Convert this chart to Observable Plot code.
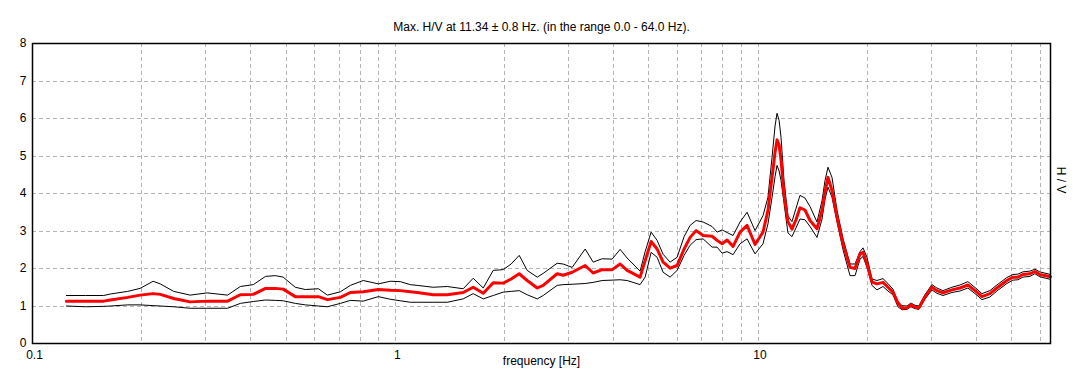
<!DOCTYPE html>
<html>
<head>
<meta charset="utf-8">
<script src="https://cdn.jsdelivr.net/npm/d3@7"></script>
<script src="https://cdn.jsdelivr.net/npm/@observablehq/plot@0.6"></script>
<style>
  html, body { margin: 0; padding: 0; background: #fff; }
</style>
</head>
<body>
<div id="chart"></div>
<script>
const titleText = "Max. H/V at 11.34 \u00b1 0.8 Hz. (in the range 0.0 - 64.0 Hz).";
const xLabel = "frequency [Hz]";
const yLabel = "H / V";
const xTickLabels = [0.1, 1, 10];
const yTickLabels = [0, 1, 2, 3, 4, 5, 6, 7, 8];
const xGrid = [0.2, 0.3, 0.4, 0.5, 0.6, 0.7, 0.8, 0.9, 1, 2, 3, 4, 5, 6, 7, 8, 9, 10, 20, 30, 40, 50, 60];
const yGrid = [1, 2, 3, 4, 5, 6, 7];

const freq = [0.124, 0.140, 0.157, 0.164, 0.183, 0.198, 0.215, 0.225, 0.245, 0.272,
  0.303, 0.345, 0.374, 0.406, 0.439, 0.467, 0.491, 0.530, 0.565, 0.614,
  0.650, 0.706, 0.752, 0.816, 0.898, 0.969, 1.032, 1.100, 1.150, 1.272,
  1.391, 1.539, 1.640, 1.748, 1.862, 1.984, 2.087, 2.196, 2.310, 2.462,
  2.557, 2.794, 2.903, 3.073, 3.338, 3.512, 3.718, 3.961, 4.167, 4.356,
  4.731, 4.884, 5.073, 5.270, 5.474, 5.723, 5.983, 6.254, 6.498, 6.749,
  7.056, 7.470, 7.711, 7.959, 8.215, 8.534, 8.921, 9.327, 9.811, 10.32,
  10.65, 10.93, 11.14, 11.28, 11.43, 11.57, 11.79, 12.09, 12.40, 12.72,
  13.05, 13.47, 13.91, 14.54, 15.01, 15.30, 15.59, 15.99, 16.51, 17.15,
  17.93, 18.51, 19.10, 19.47, 19.97, 20.61, 21.27, 22.10, 22.81, 23.54,
  24.30, 24.93, 25.73, 26.39, 27.07, 27.76, 28.84, 30.15, 31.12, 32.33,
  34.23, 36.02, 37.89, 40.12, 41.41, 43.56, 45.54, 48.53, 50.41, 52.04,
  53.70, 56.15, 57.96, 59.83, 64.0];

const hvMean = [1.13, 1.13, 1.13, 1.16, 1.23, 1.29, 1.33, 1.31, 1.20, 1.11,
  1.13, 1.13, 1.30, 1.31, 1.47, 1.47, 1.45, 1.25, 1.25, 1.25,
  1.17, 1.23, 1.36, 1.38, 1.44, 1.42, 1.41, 1.38, 1.36, 1.30,
  1.30, 1.36, 1.50, 1.34, 1.62, 1.61, 1.72, 1.86, 1.68, 1.48,
  1.55, 1.86, 1.82, 1.90, 2.08, 1.88, 1.97, 1.97, 2.12, 1.95,
  1.77, 2.21, 2.72, 2.52, 2.17, 2.01, 2.08, 2.52, 2.83, 3.01,
  2.88, 2.86, 2.75, 2.66, 2.76, 2.59, 2.97, 3.15, 2.64, 2.97,
  3.55, 4.43, 5.10, 5.43, 5.30, 4.90, 3.99, 3.25, 3.05, 3.30,
  3.62, 3.56, 3.28, 3.06, 3.55, 4.05, 4.43, 4.08, 3.37, 2.66,
  2.03, 2.00, 2.39, 2.43, 2.12, 1.64, 1.59, 1.63, 1.50, 1.37,
  1.08, 0.95, 0.95, 1.03, 0.97, 0.95, 1.24, 1.50, 1.41, 1.35,
  1.43, 1.48, 1.56, 1.37, 1.25, 1.33, 1.48, 1.68, 1.77, 1.77,
  1.84, 1.86, 1.92, 1.84, 1.78];

const hvUpper = [1.28, 1.28, 1.28, 1.32, 1.39, 1.47, 1.66, 1.59, 1.39, 1.29,
  1.35, 1.29, 1.52, 1.57, 1.79, 1.81, 1.77, 1.50, 1.44, 1.46,
  1.29, 1.38, 1.55, 1.68, 1.59, 1.66, 1.65, 1.57, 1.55, 1.50,
  1.52, 1.46, 1.74, 1.48, 1.95, 1.97, 2.12, 2.35, 1.95, 1.77,
  1.87, 2.14, 2.12, 2.03, 2.52, 2.17, 2.26, 2.25, 2.51, 2.28,
  1.93, 2.45, 2.97, 2.75, 2.38, 2.17, 2.30, 2.85, 3.15, 3.28,
  3.24, 3.12, 2.97, 3.03, 2.96, 2.88, 3.24, 3.50, 3.01, 3.41,
  3.90, 4.97, 5.80, 6.14, 5.95, 5.50, 4.35, 3.40, 3.25, 3.60,
  3.95, 3.88, 3.65, 3.24, 3.81, 4.35, 4.70, 4.43, 3.55, 2.80,
  2.12, 2.12, 2.45, 2.55, 2.30, 1.72, 1.68, 1.73, 1.60, 1.45,
  1.12, 1.01, 1.00, 1.08, 1.02, 1.00, 1.30, 1.57, 1.48, 1.41,
  1.50, 1.56, 1.65, 1.45, 1.33, 1.41, 1.56, 1.76, 1.84, 1.85,
  1.91, 1.93, 1.98, 1.91, 1.84];

const hvLower = [1.00, 0.98, 0.99, 1.00, 1.03, 1.03, 1.01, 1.00, 0.98, 0.94,
  0.94, 0.94, 1.07, 1.12, 1.16, 1.15, 1.14, 1.07, 1.03, 1.00,
  0.98, 1.07, 1.15, 1.13, 1.25, 1.18, 1.14, 1.10, 1.10, 1.10,
  1.10, 1.19, 1.33, 1.19, 1.28, 1.37, 1.39, 1.41, 1.30, 1.19,
  1.28, 1.55, 1.57, 1.58, 1.60, 1.63, 1.68, 1.69, 1.70, 1.68,
  1.57, 1.77, 2.43, 2.30, 1.90, 1.77, 1.95, 2.35, 2.62, 2.77,
  2.79, 2.57, 2.57, 2.41, 2.45, 2.37, 2.66, 2.79, 2.39, 2.66,
  3.19, 3.90, 4.45, 4.75, 4.60, 4.35, 3.75, 2.95, 2.85, 3.08,
  3.32, 3.30, 3.12, 2.83, 3.32, 3.85, 4.17, 3.90, 3.24, 2.50,
  1.81, 1.81, 2.25, 2.32, 2.03, 1.55, 1.43, 1.52, 1.40, 1.30,
  0.98, 0.90, 0.91, 0.98, 0.93, 0.91, 1.18, 1.43, 1.34, 1.28,
  1.36, 1.40, 1.48, 1.29, 1.17, 1.24, 1.40, 1.60, 1.69, 1.70,
  1.77, 1.79, 1.86, 1.78, 1.71];

const rows = freq.map((f, i) => ({f, mean: hvMean[i], upper: hvUpper[i], lower: hvLower[i]}));

const gridStyle = {stroke: "#b4b4b4", strokeOpacity: 1, strokeDasharray: "4,3", strokeWidth: 1, shapeRendering: "crispEdges"};

const chart = Plot.plot({
  width: 1081,
  height: 387,
  marginLeft: 32,
  marginRight: 31,
  marginTop: 43,
  marginBottom: 44,
  style: {fontFamily: "'Liberation Sans', Arial, sans-serif", fontSize: "12px", background: "#ffffff", color: "#000000"},
  x: {type: "log", domain: [0.1, 64]},
  y: {domain: [0, 8]},
  marks: [
    Plot.gridX(xGrid, gridStyle),
    Plot.gridY(yGrid, gridStyle),
    Plot.line(rows, {x: "f", y: "upper", stroke: "#000000", strokeWidth: 1}),
    Plot.line(rows, {x: "f", y: "lower", stroke: "#000000", strokeWidth: 1}),
    Plot.line(rows, {x: "f", y: "mean", stroke: "#ff0000", strokeWidth: 3}),
    Plot.frame({stroke: "#000000", strokeWidth: 1.5}),
    Plot.axisX(xTickLabels, {tickSize: 0, tickPadding: 7, dx: 2, tickFormat: d => String(d), label: null, fontSize: 12}),
    Plot.axisY(yTickLabels, {tickSize: 0, tickPadding: 6, label: null, fontSize: 12}),
    Plot.text([titleText], {frameAnchor: "top", dy: -21, fontSize: 12, fill: "#000000"}),
    Plot.text([xLabel], {frameAnchor: "bottom", dy: 21, fontSize: 12, fill: "#000000"}),
    Plot.text([yLabel], {frameAnchor: "right", dx: 10, rotate: 90, fontSize: 12, fill: "#000000"})
  ]
});
document.getElementById("chart").appendChild(chart);
</script>
</body>
</html>
